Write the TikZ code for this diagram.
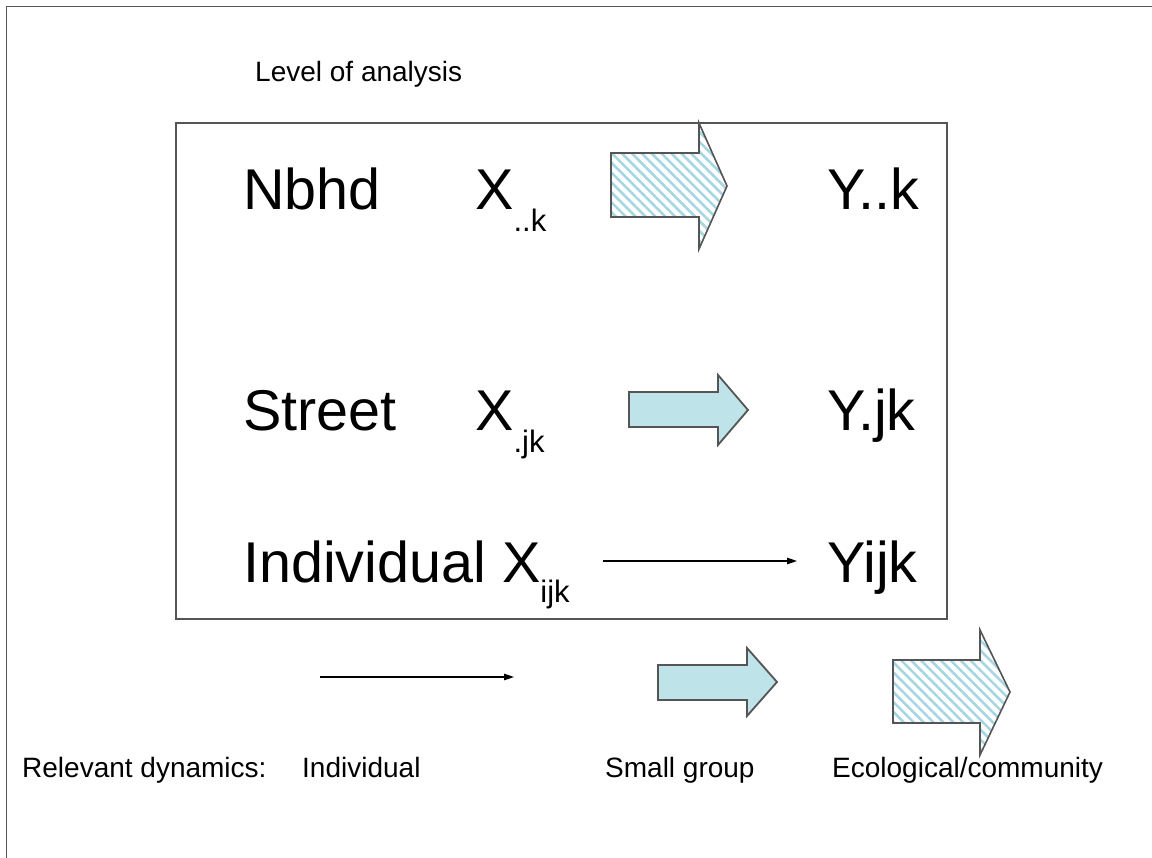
\documentclass[tikz,border=0pt]{standalone}
\usepackage{fontspec}
\setmainfont{Liberation Sans}
\usetikzlibrary{arrows.meta,patterns.meta}
\definecolor{arrowfill}{RGB}{190,228,234}
\definecolor{hatchcol}{RGB}{165,214,226}
\definecolor{outl}{RGB}{85,85,85}
\tikzset{
  big/.style={anchor=base west,inner sep=0pt,font=\fontsize{57.5}{60}\selectfont},
  small/.style={anchor=base west,inner sep=0pt,font=\fontsize{28}{30}\selectfont},
  solidarrow/.style={draw=outl,line width=1.8pt,fill=arrowfill,line join=miter},
  hatcharrow/.style={draw=outl,line width=1.6pt,line join=miter,
    pattern={Lines[angle=-45,distance=7pt,line width=2.6pt]},pattern color=hatchcol},
  thinarrow/.style={draw=black,line width=1.1pt,-{Triangle[length=10pt,width=6.5pt]}},
  frameline/.style={draw=outl,line width=1.3pt}
}
% #1 shaft left x, #2 head base x, #3 tip x, #4 shaft top y, #5 shaft bottom y, #6 head top y, #7 head bottom y, #8 tip y
\newcommand{\FatArrowPath}[8]{(#1,#4) -- (#2,#4) -- (#2,#6) -- (#3,#8) -- (#2,#7) -- (#2,#5) -- (#1,#5) -- cycle}
\newcommand{\SubTxt}[2]{\raisebox{-#1pt}{\fontsize{31}{31}\selectfont #2}}
\begin{document}
\begin{tikzpicture}[x=1pt,y=-1pt]
\useasboundingbox (0,0) rectangle (1152,858);
% outer frame (top and left edges)
\draw[frameline] (6.5,858) -- (6.5,6.5) -- (1152,6.5);
% title
\node[small] (title) at (255,82) {Level of analysis};
% main box
\draw[frameline] (176,123) rectangle (947,619);
% row labels
\node[big] (nbhd) at (243,210) {Nbhd};
\node[big] (xk) at (475,210) {X\SubTxt{22}{..k}};
\node[big] (yk) at (827,210) {Y..k};
\node[big] (street) at (243,431) {Street};
\node[big] (xjk) at (475,431) {X\SubTxt{22}{.jk}};
\node[big] (yjk) at (827,431) {Y.jk};
\node[big] (indiv) at (243,582) {Individual X\SubTxt{20}{ijk}};
\node[big] (yijk) at (827,582) {Yijk};
% arrows in box
\draw[hatcharrow] \FatArrowPath{611}{699}{727}{153}{217}{123}{249}{186};
\draw[solidarrow] \FatArrowPath{629}{718}{748}{392}{427}{375}{445}{410};
\coordinate (ia) at (603,561);
\coordinate (ib) at (797,561);
\draw[thinarrow] (ia) -- (ib);
% legend arrows
\coordinate (la) at (320,677);
\coordinate (lb) at (514,677);
\draw[thinarrow] (la) -- (lb);
\draw[solidarrow] \FatArrowPath{658}{747}{777}{665}{700}{648}{716}{682};
\draw[hatcharrow] \FatArrowPath{893}{980}{1010}{660}{723}{630}{755}{692};
% legend labels
\node[small] (rel) at (22,777) {Relevant dynamics:};
\node[small] (lind) at (302,777) {Individual};
\node[small] (lsg) at (605,777) {Small group};
\node[small] (leco) at (832,777) {Ecological/community};
\end{tikzpicture}
\end{document}
